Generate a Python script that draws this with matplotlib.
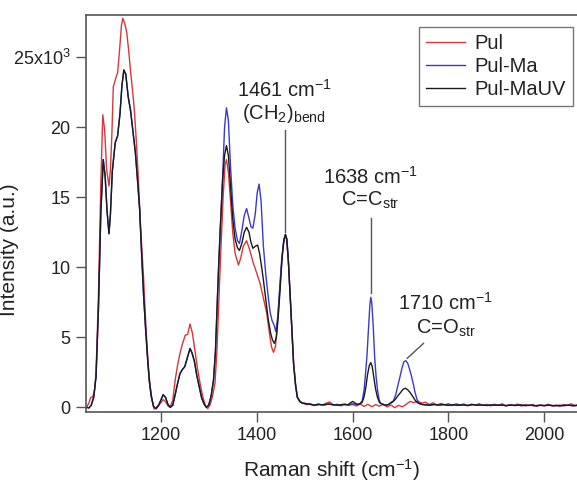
import matplotlib
matplotlib.use("Agg")
import matplotlib.pyplot as plt
import numpy as np

plt.rcParams['font.family'] = ['Liberation Sans', 'DejaVu Sans']
plt.rcParams['mathtext.fontset'] = 'custom'
plt.rcParams['mathtext.rm'] = 'Liberation Sans'
plt.rcParams['mathtext.it'] = 'Liberation Sans:italic'
plt.rcParams['mathtext.default'] = 'regular'

# Pul (red)
pul_x = [1045, 1050, 1054, 1058, 1062, 1065, 1070, 1075, 1079, 1083, 1087, 1092, 1095, 1098,
         1101, 1106, 1110, 1114, 1118, 1121, 1125, 1129, 1133, 1137, 1141, 1145, 1149, 1153,
         1158, 1164, 1168, 1171, 1175, 1178, 1182, 1186, 1190, 1195, 1200, 1205, 1210, 1215,
         1219, 1225, 1230, 1235, 1240, 1245, 1251, 1256, 1261, 1266, 1271, 1276, 1282, 1288,
         1294, 1298, 1303, 1308, 1313, 1317, 1321, 1325, 1330, 1334, 1337, 1341, 1346, 1350,
         1355, 1362, 1367, 1372, 1379, 1385, 1393, 1400, 1407, 1414, 1421, 1427, 1431, 1435,
         1439, 1443, 1447, 1451, 1455, 1459, 1462, 1466, 1470, 1474, 1477, 1481, 1484, 1490,
         1496, 1504, 1512, 1520, 1528, 1536, 1544, 1552, 1560, 1568, 1576, 1584, 1592, 1600,
         1608, 1616, 1624, 1632, 1640, 1648, 1656, 1664, 1672, 1680, 1688, 1696, 1704, 1712,
         1720, 1728, 1736, 1744, 1752, 1760, 1768, 1776, 1784, 1792, 1800, 1808, 1816, 1824,
         1832, 1840, 1848, 1856, 1864, 1872, 1880, 1888, 1896, 1904, 1912, 1920, 1928, 1936,
         1944, 1952, 1960, 1968, 1976, 1984, 1992, 2000, 2008, 2016, 2024, 2032, 2040, 2048,
         2056, 2064, 2070]
pul_y = [0, 300, 700, 750, 1200, 2500, 8000, 16000, 20900, 19800, 17000, 15800, 17000, 19500,
         22900, 23500, 23900, 25500, 27300, 27800, 27400, 26800, 25500, 24000, 22700, 21200, 19000, 16500,
         12800, 9300, 6500, 4600, 2500, 1500, 500, -120, -50, 150, 300, 550, 400, 100,
         0, 500, 1950, 3000, 3850, 4500, 5150, 5200, 5950, 5300, 4100, 2900, 1700, 700,
         50, -100, 200, 800, 1700, 4000, 7500, 11000, 15000, 17300, 17700, 16800, 14500, 12500,
         11000, 10160, 10700, 11500, 11900, 11300, 10300, 9600, 8860, 7800, 6700, 5200, 4300, 3930,
         4300, 5800, 7800, 9800, 11500, 12300, 12000, 10500, 7900, 5000, 3140, 1700, 760, 450,
         300, 180, 260, 120, 250, 150, 280, 380, 150, 220, 100, 240, 130, 200,
         90, 230, 60, 210, 40, 190, 80, 220, 20, 160, -30, 140, 30, 220,
         420, 330, 440, 300, 360, 200, 320, 150, 280, 180, 260, 120, 250, 160,
         240, 110, 230, 150, 260, 130, 210, 100, 220, 140, 250, 90, 200, 130,
         230, 80, 190, 120, 210, 60, 170, 110, 220, 90, 160, 60, 200, 140,
         250, 120, 180]

# shared part of Pul-Ma and Pul-MaUV below 1325 cm-1
low_x = [1045, 1050, 1055, 1060, 1065, 1070, 1075, 1080, 1084, 1088, 1092, 1095, 1099, 1105,
         1110, 1115, 1119, 1123, 1127, 1132, 1137, 1142, 1147, 1152, 1156, 1160, 1164, 1168,
         1172, 1176, 1180, 1185, 1190, 1195, 1200, 1205, 1210, 1215, 1220, 1225, 1230, 1235,
         1240, 1245, 1250, 1255, 1261, 1265, 1270, 1275, 1280, 1285, 1290, 1295, 1300, 1305,
         1310, 1314, 1317, 1320, 1324]
low_y = [0, -50, 150, 700, 2200, 7000, 13900, 17700, 16500, 14000, 12400, 13800, 16900, 18900,
         19400, 21000, 23000, 24100, 23800, 22200, 21200, 19700, 18200, 16000, 14100, 11000, 8100, 5800,
         3700, 1900, 800, 50, -100, 100, 500, 900, 700, 200, 0, 150, 900, 1700,
         2400, 2700, 2900, 3500, 4200, 3900, 3300, 2300, 1500, 700, 250, 0, 150, 800,
         1950, 4000, 6700, 9500, 12700]

# Pul-Ma (blue) 1329-1500
ma_mid_x = [1329, 1333, 1337, 1341, 1345, 1350, 1355, 1360, 1364, 1369, 1374, 1379, 1384, 1388,
            1392, 1397, 1401, 1405, 1409, 1414, 1419, 1424, 1428, 1432, 1436, 1440, 1444, 1448,
            1452, 1456, 1460, 1463, 1466, 1470, 1474, 1477, 1481, 1485, 1490, 1495]
ma_mid_y = [16500, 20000, 21400, 20500, 17500, 14500, 12800, 11900, 11700, 12600, 13700, 14200, 13500, 12900,
            12800, 13800, 15300, 15950, 14800, 11500, 9500, 7900, 6800, 6200, 5900, 5400, 6500, 8500,
            10500, 11800, 12350, 12000, 10500, 7900, 5200, 3100, 1600, 700, 400, 300]

# Pul-MaUV (black) 1329-1500
uv_mid_x = [1329, 1333, 1337, 1341, 1346, 1350, 1355, 1360, 1364, 1369, 1374, 1379, 1384, 1388,
            1392, 1397, 1402, 1406, 1410, 1414, 1419, 1424, 1429, 1433, 1437, 1441, 1445, 1449,
            1453, 1457, 1460, 1463, 1466, 1470, 1474, 1477, 1481, 1485, 1490, 1495]
uv_mid_y = [16200, 18000, 18700, 18000, 15500, 13500, 12000, 11400, 11200, 11700, 12500, 12860, 12500, 11800,
            11360, 11500, 11590, 11000, 10100, 9100, 7700, 6300, 5300, 4800, 4570, 5000, 6500, 8500,
            10700, 12000, 12350, 12000, 10500, 7900, 5200, 3100, 1600, 700, 400, 300]

# baseline before the C=C band
base_x = [1500, 1510, 1520, 1530, 1540, 1550, 1560, 1570, 1580, 1590]
base_y = [280, 220, 150, 200, 170, 230, 180, 150, 200, 180]

# Pul-Ma 1600-1750
ma_hi_x = [1600, 1610, 1615, 1620, 1624, 1627, 1630, 1633, 1636, 1638, 1640, 1643, 1646, 1649,
           1652, 1655, 1658, 1665, 1670, 1675, 1680, 1685, 1690, 1694, 1699, 1703, 1707, 1711,
           1715, 1719, 1723, 1727, 1730, 1734, 1738, 1745]
ma_hi_y = [250, 200, 250, 450, 1240, 2400, 3700, 5500, 7300, 7860, 7500, 5800, 3600, 2200,
           1240, 600, 300, 180, 150, 200, 350, 450, 900, 1500, 2200, 2800, 3250, 3330,
           3150, 2700, 2200, 1600, 1100, 600, 300, 200]

# Pul-MaUV 1600-1750
uv_hi_x = [1600, 1610, 1615, 1620, 1624, 1628, 1631, 1635, 1638, 1641, 1645, 1648, 1652, 1656,
           1660, 1665, 1670, 1675, 1680, 1685, 1690, 1695, 1700, 1705, 1710, 1715, 1720, 1725,
           1730, 1735, 1740, 1745]
uv_hi_y = [420, 200, 250, 350, 760, 1500, 2300, 3000, 3190, 2900, 2000, 1300, 700, 350,
           250, 180, 150, 200, 300, 420, 600, 850, 1050, 1280, 1360, 1250, 1050, 800,
           520, 330, 250, 200]

# baseline after the C=O band
tail_x = [1750, 1760, 1770, 1780, 1790, 1800, 1810, 1820, 1830, 1840, 1850, 1860, 1870, 1880,
          1890, 1900, 1910, 1920, 1930, 1940, 1950, 1960, 1970, 1980, 1990, 2000, 2010, 2020,
          2030, 2040, 2050, 2060, 2070]
tail_y = [180, 150, 200, 160, 190, 140, 180, 150, 170, 130, 190, 150, 160, 130, 170, 140, 160,
          120, 150, 130, 170, 120, 150, 110, 140, 120, 150, 110, 130, 120, 150, 110, 140]

ma_x = low_x + ma_mid_x + base_x + ma_hi_x + tail_x
ma_y = low_y + ma_mid_y + base_y + ma_hi_y + tail_y
uv_x = low_x + uv_mid_x + base_x + uv_hi_x + tail_x
uv_y = low_y + uv_mid_y + base_y + uv_hi_y + tail_y

fig = plt.figure(figsize=(5.77, 4.84), dpi=100)
ax = fig.add_axes([0.149, 0.1488, 0.851, 0.8202])

ax.plot(pul_x, pul_y, color='#d4383c', lw=1.0, label='Pul')
ax.plot(ma_x, ma_y, color='#3a3ac8', lw=1.0, label='Pul-Ma')
ax.plot(uv_x, uv_y, color='#1a1a1a', lw=1.0, label='Pul-MaUV')

ax.set_xlim(1044, 2068)
ax.set_ylim(-336, 28030)

ax.set_xticks([1200, 1400, 1600, 1800, 2000])
ax.set_yticks([0, 5000, 10000, 15000, 20000, 25000])
ax.set_yticklabels(['0', '5', '10', '15', '20', '25x10$^{3}$'])

for s in ['left', 'bottom', 'top']:
    ax.spines[s].set_color('#555555')
    ax.spines[s].set_linewidth(1.2)
ax.spines['right'].set_visible(False)
ax.tick_params(direction='out', length=7, width=1.0, color='#555555', labelsize=13, pad=4,
               labelcolor='#222222')

ax.set_xlabel('Raman shift (cm$^{-1}$)', fontsize=15, labelpad=9, color='#222222')
ax.set_ylabel('Intensity (a.u.)', fontsize=15, color='#222222')
ax.yaxis.set_label_coords(-0.136, 0.41)

# annotations
tc = '#222222'
lc = '#555555'
ax.text(1457, 22700, '1461 cm$^{-1}$', fontsize=14.5, ha='center', va='center', color=tc)
ax.text(1457, 21000, '(CH$_2$)$_{bend}$', fontsize=14.5, ha='center', va='center', color=tc)
ax.plot([1459, 1459], [19800, 12500], color=lc, lw=1.0)

ax.text(1637, 16450, '1638 cm$^{-1}$', fontsize=14.5, ha='center', va='center', color=tc)
ax.text(1637, 14800, 'C=C$_{str}$', fontsize=14.5, ha='center', va='center', color=tc)
ax.plot([1638, 1638], [13500, 8200], color=lc, lw=1.0)

ax.text(1793, 7450, '1710 cm$^{-1}$', fontsize=14.5, ha='center', va='center', color=tc)
ax.text(1795, 5650, 'C=O$_{str}$', fontsize=14.5, ha='center', va='center', color=tc)
ax.plot([1748, 1714], [4570, 3500], color=lc, lw=1.0)

leg = ax.legend(loc='upper right', bbox_to_anchor=(0.992, 0.970), borderaxespad=0,
                fontsize=14.5, frameon=True, fancybox=False, handlelength=1.9,
                handletextpad=0.5, labelspacing=0.2, borderpad=0.35)
leg.get_frame().set_edgecolor('#555555')
leg.get_frame().set_linewidth(1.0)
for t in leg.get_texts():
    t.set_color(tc)

fig.savefig('out.png', dpi=100)
